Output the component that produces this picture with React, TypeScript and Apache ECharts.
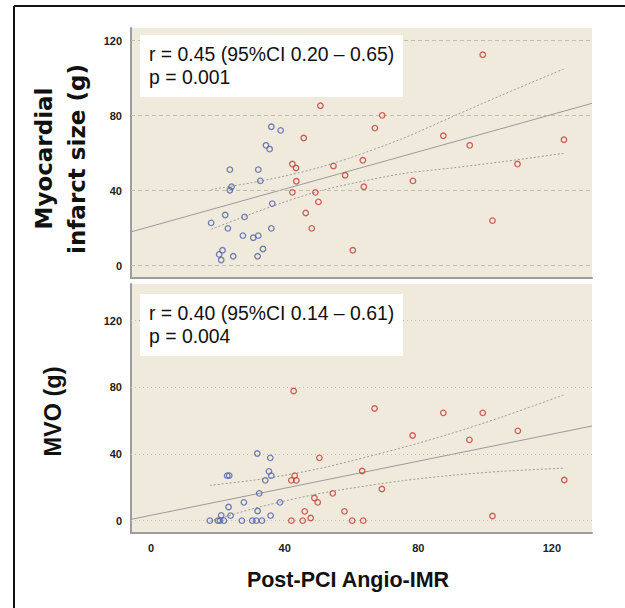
import React, { useEffect, useRef } from "react";
import * as echarts from "echarts";

// ---- data ----
const xTickValues = [0, 40, 80, 120];
const yTickValues = [0, 40, 80, 120];

const xTitle = "Post-PCI Angio-IMR";
const topTitleLines = ["Myocardial", "infarct size (g)"];
const bottomTitle = "MVO (g)";
const topStats = ["r = 0.45 (95%CI 0.20 – 0.65)", "p = 0.001"];
const bottomStats = ["r = 0.40 (95%CI 0.14 – 0.61)", "p = 0.004"];

// Myocardial infarct size (g)
const topBlue: [number, number][] = [
  [18.0, 22.8], [22.2, 27], [23.0, 19.9], [20.4, 6.0], [21.4, 8.2], [21.0, 3.0],
  [24.6, 5.0], [23.6, 51.2], [24.1, 42.1], [23.6, 40.2], [28.0, 26], [27.5, 16],
  [30.6, 14.9], [32.1, 16], [31.9, 5], [33.5, 8.9], [32.1, 51.2], [32.7, 45.2],
  [34.4, 64.2], [35.5, 62.2], [36.0, 74.1], [38.8, 72.2], [36.3, 33.1], [36.0, 19.9],
];
const topRed: [number, number][] = [
  [50.7, 85.3], [45.7, 68.1], [42.3, 54.2], [43.4, 52.1], [43.5, 45], [42.3, 39.1],
  [49.2, 39.1], [50.1, 34], [46.3, 28.1], [48.1, 19.9], [54.6, 53.2], [58.1, 48.2],
  [60.4, 8.2], [99.3, 112.5], [69.2, 80.2], [67.0, 73.4], [63.4, 56.2], [63.7, 42.1],
  [87.5, 69.3], [95.4, 64.2], [78.4, 45.2], [109.7, 54.2], [102.2, 24], [123.6, 67.2],
];
const topFit: [number, number][] = [[-6, 18.0], [132, 86.6]];
const topUpper: [number, number][] = [
  [18, 40.6], [30, 44.2], [40, 47.8], [50, 52.2], [60, 57.8], [75, 67.6], [90, 79.3], [105, 91], [123.5, 104.9],
];
const topLower: [number, number][] = [
  [18, 19.4], [30, 27.6], [40, 34.0], [50, 39.6], [60, 43.8], [75, 49.0], [90, 52.1], [105, 55.4], [123.5, 59.9],
];

// MVO (g)
const bottomBlue: [number, number][] = [
  [17.6, 0], [20.0, 0], [20.6, 0], [21.8, 0], [21.0, 3.2], [23.2, 8.2], [23.8, 3],
  [22.8, 27], [23.4, 27], [27.2, 0], [27.8, 11], [30.3, 0], [31.5, 0], [33.2, 0],
  [31.9, 5.8], [32.4, 16.4], [31.8, 40.3], [34.2, 24.2], [35.3, 29.6], [36.0, 27],
  [35.7, 37.7], [35.8, 3], [38.6, 11],
];
const bottomRed: [number, number][] = [
  [42.7, 77.8], [42.0, 24.2], [43.0, 27], [43.5, 24.2], [50.4, 37.7], [42.0, 0],
  [45.4, 0], [46.0, 5.6], [47.8, 1.6], [48.9, 13.6], [49.9, 11], [54.4, 16.4],
  [57.9, 5.6], [60.2, 0], [63.2, 29.8], [69.1, 19], [63.5, 0], [66.9, 67.3],
  [87.5, 64.7], [99.3, 64.7], [78.3, 51.1], [95.3, 48.5], [109.8, 53.9], [102.2, 2.8],
  [123.7, 24.4],
];
const bottomFit: [number, number][] = [[-6, 0.8], [132, 56.8]];
const bottomUpper: [number, number][] = [
  [17.6, 21.2], [30, 24.1], [40, 27.2], [50, 31.1], [60, 35.9], [75, 43.7], [90, 52.4], [105, 62.2], [123.6, 75.5],
];
const bottomLower: [number, number][] = [
  [17.6, -0.4], [30, 6.9], [40, 11.8], [50, 16.1], [60, 19.5], [75, 23.9], [90, 27.2], [105, 29.6], [123.6, 31.5],
];

// ---- styles ----
const BLUE = "#4d5fab";
const RED = "#c23a35";
const BG = "#efeadb";
const AXIS = "#9d9d9d";
const GRIDC = "#c4bdac";
const FITC = "#9a9a9a";

function scatter(data: [number, number][], color: string, idx: number) {
  return {
    type: "scatter",
    xAxisIndex: idx,
    yAxisIndex: idx,
    data,
    symbol: "circle",
    symbolSize: 5.5,
    itemStyle: { color: "rgba(0,0,0,0)", borderColor: color, borderWidth: 1.3 },
    z: 5,
  };
}

function line(data: [number, number][], idx: number, dotted: boolean, extra: any = {}) {
  return {
    type: "line",
    xAxisIndex: idx,
    yAxisIndex: idx,
    data,
    smooth: dotted ? 0.3 : false,
    symbol: "none",
    lineStyle: { color: FITC, width: 1, type: dotted ? [2, 2] : "solid" },
    z: 3,
    ...extra,
  };
}

function gridMark(dash: number[]) {
  return {
    markLine: {
      silent: true,
      symbol: "none",
      label: { show: false },
      lineStyle: { color: GRIDC, width: 1, type: dash },
      data: yTickValues.map((v) => ({ yAxis: v })),
    },
  };
}

const axisLabelStyle = {
  fontFamily: "Liberation Sans, Arial, sans-serif",
  fontWeight: "bold",
  fontSize: 11,
  color: "#222",
};

function statsBox(lines: string[], top: number) {
  return [
    {
      type: "rect",
      shape: { x: 140, y: top, width: 263, height: 62 },
      style: { fill: "#ffffff" },
      z: 10,
    },
    ...lines.map((t, i) => ({
      type: "text",
      x: 149,
      y: top + 18.5 + i * 23,
      style: {
        text: t,
        fill: "#111",
        fontFamily: "Liberation Sans, Arial, sans-serif",
        fontSize: 19.4,
        verticalAlign: "middle",
        align: "left",
      },
      z: 11,
    })),
  ];
}

const option: any = {
  animation: false,
  backgroundColor: "#ffffff",
  grid: [
    { left: 131, top: 28, width: 461, height: 250, show: true, backgroundColor: BG, borderWidth: 0 },
    { left: 131, top: 284, width: 461, height: 249, show: true, backgroundColor: BG, borderWidth: 0 },
  ],
  xAxis: [
    {
      type: "value", gridIndex: 0, min: -6, max: 132,
      axisLine: { show: true, onZero: false, lineStyle: { color: AXIS, width: 2 } },
      axisTick: { show: false }, axisLabel: { show: false }, splitLine: { show: false },
    },
    {
      type: "value", gridIndex: 1, min: -6, max: 132,
      axisLine: { show: true, onZero: false, lineStyle: { color: AXIS, width: 2 } },
      axisTick: { show: false },
      axisLabel: { ...axisLabelStyle, margin: 9, customValues: xTickValues },
      splitLine: { show: false },
    },
  ],
  yAxis: [
    {
      type: "value", gridIndex: 0, min: -6.6, max: 126.8,
      axisLine: { show: true, onZero: false, lineStyle: { color: AXIS, width: 2 } },
      axisTick: { show: false },
      axisLabel: { ...axisLabelStyle, margin: 9, customValues: yTickValues },
      splitLine: { show: false },
    },
    {
      type: "value", gridIndex: 1, min: -7.4, max: 142,
      axisLine: { show: true, onZero: false, lineStyle: { color: AXIS, width: 2 } },
      axisTick: { show: false },
      axisLabel: { ...axisLabelStyle, margin: 9, customValues: yTickValues },
      splitLine: { show: false },
    },
  ],
  series: [
    line(topFit, 0, false, gridMark([4, 3])),
    line(topUpper, 0, true),
    line(topLower, 0, true),
    scatter(topBlue, BLUE, 0),
    scatter(topRed, RED, 0),
    line(bottomFit, 1, false, gridMark([1, 3])),
    line(bottomUpper, 1, true),
    line(bottomLower, 1, true),
    scatter(bottomBlue, BLUE, 1),
    scatter(bottomRed, RED, 1),
  ],
  graphic: [
    { type: "line", shape: { x1: 14, y1: 6, x2: 625, y2: 6 }, style: { stroke: "#111", lineWidth: 2 } },
    { type: "line", shape: { x1: 14, y1: 6, x2: 14, y2: 608 }, style: { stroke: "#111", lineWidth: 2 } },
    ...statsBox(topStats, 35),
    ...statsBox(bottomStats, 294),
    {
      type: "text", x: 44, y: 158.5, rotation: Math.PI / 2,
      style: {
        text: topTitleLines[0], fill: "#111", fontFamily: "DejaVu Sans, sans-serif",
        fontWeight: "bold", fontSize: 23, align: "center", verticalAlign: "middle",
      },
    },
    {
      type: "text", x: 77, y: 159, rotation: Math.PI / 2,
      style: {
        text: topTitleLines[1], fill: "#111", fontFamily: "DejaVu Sans, sans-serif",
        fontWeight: "bold", fontSize: 23, align: "center", verticalAlign: "middle",
      },
    },
    {
      type: "text", x: 53, y: 411.5, rotation: Math.PI / 2,
      style: {
        text: bottomTitle, fill: "#111", fontFamily: "Liberation Sans, Arial, sans-serif",
        fontWeight: "bold", fontSize: 23.5, align: "center", verticalAlign: "middle",
      },
    },
    {
      type: "text", x: 348, y: 580,
      style: {
        text: xTitle, fill: "#111", fontFamily: "Liberation Sans, Arial, sans-serif",
        fontWeight: "bold", fontSize: 21.5, align: "center", verticalAlign: "middle",
      },
    },
  ],
};

export default function App() {
  const ref = useRef<HTMLDivElement>(null);
  useEffect(() => {
    document.body.style.margin = "0";
    const chart = echarts.init(ref.current as HTMLDivElement, null, { renderer: "svg" });
    chart.setOption(option);
    return () => chart.dispose();
  }, []);
  return <div ref={ref} style={{ width: 625, height: 608 }} />;
}
